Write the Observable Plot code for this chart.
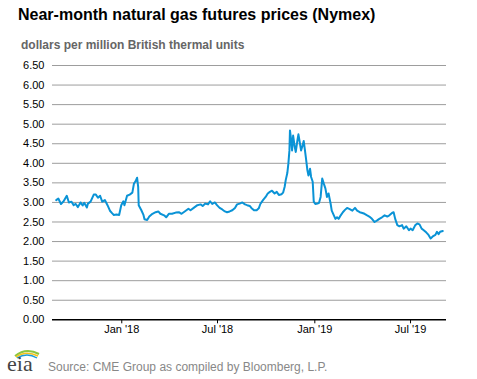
<!DOCTYPE html>
<html>
<head>
<meta charset="utf-8">
<script src="https://cdn.jsdelivr.net/npm/d3@7"></script>
<script src="https://cdn.jsdelivr.net/npm/@observablehq/plot@0.6"></script>
<style>
  html, body { margin: 0; padding: 0; background: #fff; }
  #wrap { position: relative; width: 477px; height: 379px; font-family: "Liberation Sans", Arial, sans-serif; overflow: hidden; }
  #title { position: absolute; left: 18px; top: 6px; font-size: 16px; font-weight: bold; color: #000; white-space: nowrap; }
  #subtitle { position: absolute; left: 21px; top: 38px; font-size: 12px; font-weight: bold; color: #666; white-space: nowrap; }
  #chart { position: absolute; left: 0; top: 55px; }
  #source { position: absolute; left: 48px; top: 360px; font-size: 12px; color: #888; white-space: nowrap; }
  #logo { position: absolute; left: 6px; top: 343px; }
</style>
</head>
<body>
<div id="wrap">
  <div id="title">Near-month natural gas futures prices (Nymex)</div>
  <div id="subtitle">dollars per million British thermal units</div>
  <div id="chart"></div>
  <svg id="logo" width="36" height="34" viewBox="0 0 36 34">
    <path d="M9 13 Q20 4 33 11" fill="none" stroke="#8cc63f" stroke-width="2"/>
    <path d="M10 14 Q20 7 32 13" fill="none" stroke="#f6c21b" stroke-width="1.6"/>
    <path d="M11 15 Q21 9 31 15" fill="none" stroke="#1b9ad6" stroke-width="1.4"/>
    <text x="1" y="28" font-family="Liberation Serif, DejaVu Serif, serif" font-size="22" fill="#444">eia</text>
  </svg>
  <div id="source">Source: CME Group as compiled by Bloomberg, L.P.</div>
</div>
<script>
const dates = [
"2017-08-30","2017-09-03","2017-09-08","2017-09-13","2017-09-19","2017-09-23","2017-09-28","2017-10-02","2017-10-06","2017-10-10",
"2017-10-15","2017-10-19","2017-10-22","2017-10-27","2017-10-29","2017-11-03","2017-11-09","2017-11-13","2017-11-17","2017-11-21",
"2017-11-25","2017-11-30","2017-12-05","2017-12-10","2017-12-14","2017-12-17","2017-12-22","2017-12-27","2017-12-31","2018-01-04",
"2018-01-06","2018-01-11","2018-01-16","2018-01-21","2018-01-24","2018-01-27","2018-01-30","2018-02-01","2018-02-02","2018-02-07",
"2018-02-11","2018-02-13","2018-02-18","2018-02-22","2018-02-28","2018-03-06","2018-03-11","2018-03-15","2018-03-22","2018-03-26",
"2018-03-31","2018-04-06","2018-04-13","2018-04-19","2018-04-24","2018-04-30","2018-05-07","2018-05-11","2018-05-17","2018-05-24",
"2018-05-30","2018-06-03","2018-06-08","2018-06-13","2018-06-17","2018-06-21","2018-06-26","2018-06-30","2018-07-05","2018-07-10",
"2018-07-15","2018-07-19","2018-07-24","2018-07-29","2018-08-03","2018-08-07","2018-08-12","2018-08-17","2018-08-22","2018-08-26",
"2018-08-31","2018-09-03","2018-09-08","2018-09-13","2018-09-17","2018-09-20","2018-09-25","2018-09-30","2018-10-04","2018-10-08",
"2018-10-12","2018-10-17","2018-10-21","2018-10-25","2018-10-30","2018-11-02","2018-11-05","2018-11-07","2018-11-10","2018-11-12",
"2018-11-14","2018-11-15","2018-11-17","2018-11-19","2018-11-21","2018-11-24","2018-11-26","2018-11-29","2018-12-01","2018-12-04",
"2018-12-06","2018-12-09","2018-12-11","2018-12-13","2018-12-15","2018-12-18","2018-12-20","2018-12-23","2018-12-25","2018-12-28",
"2018-12-30","2019-01-02","2019-01-06","2019-01-09","2019-01-12","2019-01-15","2019-01-18","2019-01-21","2019-01-24","2019-01-27",
"2019-01-31","2019-02-02","2019-02-06","2019-02-09","2019-02-12","2019-02-15","2019-02-19","2019-02-23","2019-02-27","2019-03-03",
"2019-03-08","2019-03-13","2019-03-18","2019-03-22","2019-03-27","2019-04-01","2019-04-05","2019-04-10","2019-04-14","2019-04-19",
"2019-04-24","2019-04-29","2019-05-03","2019-05-08","2019-05-13","2019-05-18","2019-05-22","2019-05-27","2019-05-30","2019-06-02",
"2019-06-06","2019-06-10","2019-06-15","2019-06-18","2019-06-23","2019-06-28","2019-07-01","2019-07-05","2019-07-10","2019-07-14",
"2019-07-18","2019-07-22","2019-07-26","2019-07-31","2019-08-04","2019-08-08","2019-08-12","2019-08-17","2019-08-20","2019-08-23",
"2019-08-26","2019-08-31"
];
const prices = [
3.06,3.10,2.96,3.03,3.17,3.00,3.02,2.93,2.96,2.88,
3.00,2.92,2.99,2.87,2.97,3.02,3.20,3.20,3.12,3.17,
3.02,3.06,2.93,2.78,2.72,2.68,2.69,2.68,2.93,3.03,
2.93,3.17,3.20,3.25,3.48,3.54,3.63,3.40,2.93,2.80,
2.68,2.57,2.55,2.64,2.71,2.75,2.77,2.71,2.67,2.62,
2.71,2.71,2.74,2.75,2.71,2.77,2.84,2.80,2.86,2.93,
2.95,2.91,2.97,2.95,3.03,2.96,3.00,2.93,2.86,2.82,
2.77,2.75,2.77,2.80,2.86,2.95,2.97,3.00,2.95,2.93,
2.91,2.86,2.80,2.80,2.85,2.96,3.06,3.14,3.23,3.27,
3.30,3.23,3.27,3.19,3.21,3.25,3.40,3.57,3.75,3.99,
4.33,4.84,4.63,4.33,4.71,4.42,4.29,4.58,4.74,4.50,
4.33,4.46,4.57,4.37,4.16,3.82,3.69,3.86,3.65,3.53,
3.02,2.96,2.97,2.99,3.14,3.61,3.48,3.36,3.14,3.23,
2.96,2.79,2.67,2.58,2.62,2.58,2.67,2.75,2.81,2.86,
2.83,2.79,2.86,2.79,2.75,2.73,2.71,2.67,2.64,2.58,
2.50,2.54,2.58,2.62,2.67,2.64,2.67,2.73,2.75,2.58,
2.42,2.39,2.42,2.33,2.39,2.29,2.33,2.29,2.42,2.46,
2.44,2.33,2.29,2.23,2.17,2.08,2.13,2.17,2.25,2.19,
2.25,2.27
];
const xTickDates = ["2018-01-01","2018-07-01","2019-01-01","2019-07-01"];
const xTickLabels = ["Jan '18","Jul '18","Jan '19","Jul '19"];
const yTicks = [0,0.5,1,1.5,2,2.5,3,3.5,4,4.5,5,5.5,6,6.5];
const xDomain = ["2017-08-23","2019-09-07"];

const data = dates.map((d, i) => ({date: new Date(d + "T00:00:00Z"), price: prices[i]}));
const tickDates = xTickDates.map(d => new Date(d + "T00:00:00Z"));
const labelFor = new Map(tickDates.map((d, i) => [+d, xTickLabels[i]]));

const chart = Plot.plot({
  width: 477,
  height: 290,
  marginLeft: 52,
  marginRight: 31,
  marginTop: 10,
  marginBottom: 25.7,
  style: {fontFamily: "'Liberation Sans', Arial, sans-serif", fontSize: "11px", color: "#000", background: "#fff"},
  x: {type: "utc", domain: xDomain.map(d => new Date(d + "T00:00:00Z"))},
  y: {domain: [0, 6.5]},
  marks: [
    Plot.gridY(yTicks.filter(v => v > 0), {stroke: "#9d9d9d", strokeOpacity: 1, strokeWidth: 1}),
    Plot.axisY(yTicks, {label: null, tickSize: 0, tickPadding: 8, tickFormat: d3.format(".2f"), fill: "#000", fontSize: 11}),
    Plot.axisX(tickDates, {label: null, tickSize: 4, tickPadding: 1, tickFormat: d => labelFor.get(+d), stroke: "#000", fill: "#000", fontSize: 11}),
    Plot.ruleY([0], {stroke: "#000", strokeWidth: 1.6}),
    Plot.lineY(data, {x: "date", y: "price", stroke: "#0a93d6", strokeWidth: 2})
  ]
});
document.getElementById("chart").appendChild(chart);
</script>
</body>
</html>
